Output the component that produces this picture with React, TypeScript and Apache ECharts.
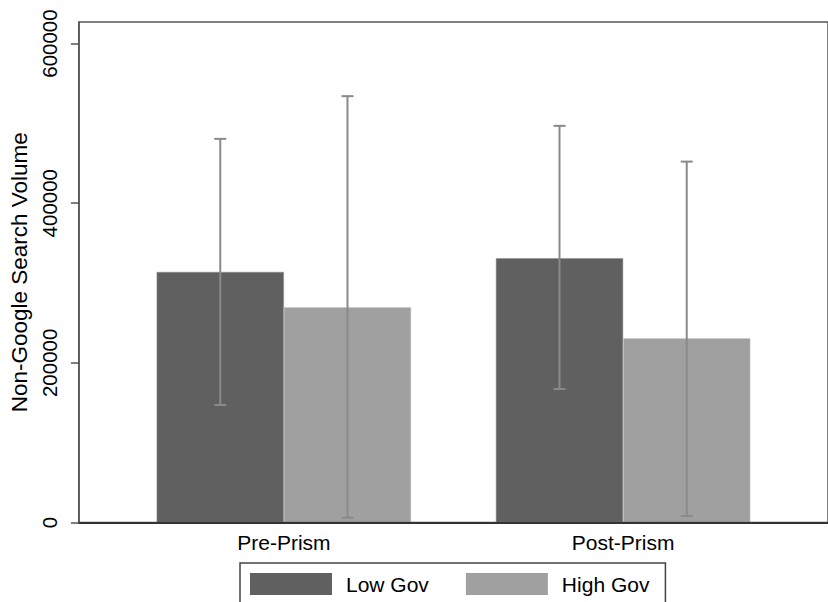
import React, { useEffect, useRef } from "react";
import * as echarts from "echarts";

const categories = ["Pre-Prism", "Post-Prism"];
const seriesNames = ["Low Gov", "High Gov"];
const lowGovMean = [313900, 331100];
const highGovMean = [269700, 230800];
const lowGovCiLow = [147200, 167300];
const lowGovCiHigh = [480600, 496900];
const highGovCiLow = [6000, 8100];
const highGovCiHigh = [534100, 452100];
const yTicks = [0, 200000, 400000, 600000];
const yMax = 627000;

const FONT = "'Liberation Sans', Arial, sans-serif";
const GAP = 0.25;

export default function App() {
  const ref = useRef<HTMLDivElement>(null);
  useEffect(() => {
    document.body.style.margin = "0";
    const chart = echarts.init(ref.current!, undefined, { renderer: "svg" });

    const errRender = (groupIdx: number) => (params: any, api: any) => {
      const x = api.value(0);
      const lo = api.coord([x, api.value(1)]);
      const hi = api.coord([x, api.value(2)]);
      const band = api.size([1, 0])[0];
      const barW = (band * (1 - GAP)) / 2;
      const off = (groupIdx === 0 ? -0.5 : 0.5) * barW;
      const cx = lo[0] + off;
      const cap = 6;
      const style = { stroke: "#8a8a8a", lineWidth: 2 };
      return {
        type: "group",
        children: [
          { type: "line", shape: { x1: cx, y1: lo[1], x2: cx, y2: hi[1] }, style },
          { type: "line", shape: { x1: cx - cap, y1: lo[1], x2: cx + cap, y2: lo[1] }, style },
          { type: "line", shape: { x1: cx - cap, y1: hi[1], x2: cx + cap, y2: hi[1] }, style },
        ],
      };
    };

    chart.setOption({
      animation: false,
      backgroundColor: "#ffffff",
      textStyle: { fontFamily: FONT },
      grid: [
        { left: 114.25, right: 35.25, top: 22, bottom: 79.5 },
        {
          left: 71, right: -5, top: 22, bottom: 79.5,
          show: true, borderColor: "#555555", borderWidth: 1.5, z: 10,
        },
      ],
      legend: {
        data: seriesNames,
        left: 240,
        top: 563,
        orient: "horizontal",
        icon: "rect",
        borderColor: "#444444",
        borderWidth: 1.5,
        padding: [10, 16, 12, 10],
        itemWidth: 82,
        itemHeight: 22,
        itemGap: 37,
        itemStyle: { borderWidth: 0 },
        textStyle: { fontSize: 21, color: "#000000", fontFamily: FONT, padding: [0, 0, 0, 9] },
      },
      xAxis: [
        {
          type: "category",
          gridIndex: 0,
          data: categories,
          axisLine: { show: false },
          axisTick: { show: false },
          axisLabel: { fontSize: 21, color: "#000000", margin: 9, fontFamily: FONT },
        },
        {
          type: "value",
          gridIndex: 1,
          min: 0,
          max: 1,
          z: 10,
          axisLine: { show: true, lineStyle: { color: "#333333", width: 2 } },
          axisTick: { show: false },
          axisLabel: { show: false },
          splitLine: { show: false },
        },
      ],
      yAxis: [
        {
          type: "value",
          gridIndex: 0,
          min: 0,
          max: yMax,
          show: false,
          splitLine: { show: false },
        },
        {
          type: "value",
          gridIndex: 1,
          min: 0,
          max: yMax,
          z: 10,
          name: "Non-Google Search Volume",
          nameLocation: "middle",
          nameGap: 38,
          nameTextStyle: { fontSize: 22.5, color: "#000000", fontFamily: FONT },
          axisLine: { show: true, lineStyle: { color: "#555555", width: 1.5 } },
          axisTick: {
            show: true,
            length: 8,
            lineStyle: { color: "#555555", width: 1.5 },
            customValues: yTicks,
          },
          axisLabel: {
            rotate: 90,
            fontSize: 20.5,
            color: "#000000",
            margin: 19,
            fontFamily: FONT,
            customValues: yTicks,
            formatter: (v: number) => String(v),
          },
          splitLine: { show: false },
        },
      ],
      series: [
        {
          name: seriesNames[0],
          type: "bar",
          xAxisIndex: 0,
          yAxisIndex: 0,
          data: lowGovMean,
          barGap: "0%",
          barCategoryGap: "25%",
          itemStyle: { color: "#606060", borderColor: "#8a8a8a", borderWidth: 0.5 },
        },
        {
          name: seriesNames[1],
          type: "bar",
          xAxisIndex: 0,
          yAxisIndex: 0,
          data: highGovMean,
          barGap: "0%",
          barCategoryGap: "25%",
          itemStyle: { color: "#a0a0a0", borderColor: "#c8c8c8", borderWidth: 0.5 },
        },
        {
          name: "Low Gov CI",
          type: "custom",
          xAxisIndex: 0,
          yAxisIndex: 0,
          z: 5,
          renderItem: errRender(0),
          encode: { x: 0, y: [1, 2] },
          data: categories.map((_, i) => [i, lowGovCiLow[i], lowGovCiHigh[i]]),
        },
        {
          name: "High Gov CI",
          type: "custom",
          xAxisIndex: 0,
          yAxisIndex: 0,
          z: 5,
          renderItem: errRender(1),
          encode: { x: 0, y: [1, 2] },
          data: categories.map((_, i) => [i, highGovCiLow[i], highGovCiHigh[i]]),
        },
      ],
    });
    return () => chart.dispose();
  }, []);
  return <div ref={ref} style={{ width: 828, height: 602 }} />;
}
